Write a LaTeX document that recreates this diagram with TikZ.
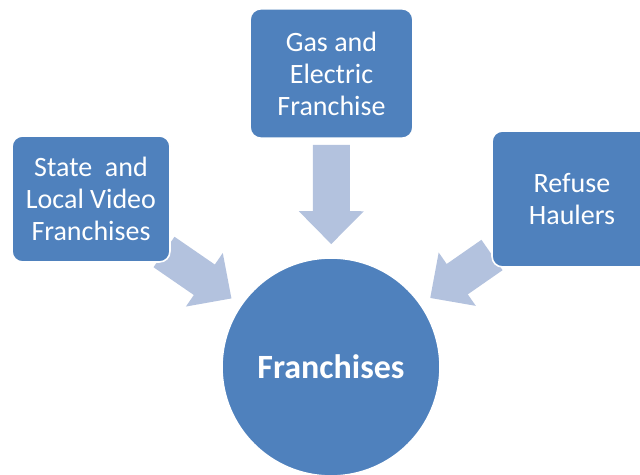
\documentclass[tikz,border=0pt]{standalone}
\usepackage{fontspec}
\setmainfont{Carlito}
\usetikzlibrary{arrows.meta,backgrounds}

\definecolor{boxblue}{HTML}{4F81BD}
\definecolor{arrowblue}{HTML}{B3C2DE}

\begin{document}
\begin{tikzpicture}[x=0.75pt,y=0.75pt,
  srcbox/.style={rectangle, rounded corners=8pt, fill=boxblue, draw=white,
    line width=1.2pt, text=white, align=center,
    font=\fontsize{21}{24}\selectfont, inner sep=0pt},
  hubnode/.style={circle, fill=boxblue, draw=white, line width=1.2pt,
    text=white, minimum size=163.5pt, inner sep=0pt,
    font=\fontsize{25.5}{30}\selectfont\bfseries},
  bigarrow/.style={draw=arrowblue, line width=27.75pt,
    -{Triangle[width=47.25pt,length=24.75pt]}}
]
\useasboundingbox (0,0) rectangle (640,475);

% source boxes and central circle
\node[hubnode] (hub) at (331,108) {Franchises};
\node[srcbox, minimum width=118.5pt, minimum height=94.5pt] (video) at (91,276)
  {State\ \ and\\Local Video\\Franchises};
\node[srcbox, minimum width=122pt, minimum height=97pt] (gas) at (331.5,401.5)
  {Gas and\\Electric\\Franchise};
\node[srcbox, minimum width=120pt, minimum height=102pt] (refuse) at (572,276)
  {Refuse\\Haulers};

% shaft origins tucked under the box corners
\coordinate (vfrom) at (164,223);
\coordinate (rfrom) at (492,220);

% block arrows, drawn behind the boxes
\begin{pgfonlayer}{background}
  \draw[bigarrow, shorten <=4.5pt, shorten >=9.75pt] (gas) -- (hub);
  \draw[bigarrow, shorten >=8.25pt] (vfrom) -- (hub);
  \draw[bigarrow, shorten >=8.25pt] (rfrom) -- (hub);
\end{pgfonlayer}
\end{tikzpicture}
\end{document}
